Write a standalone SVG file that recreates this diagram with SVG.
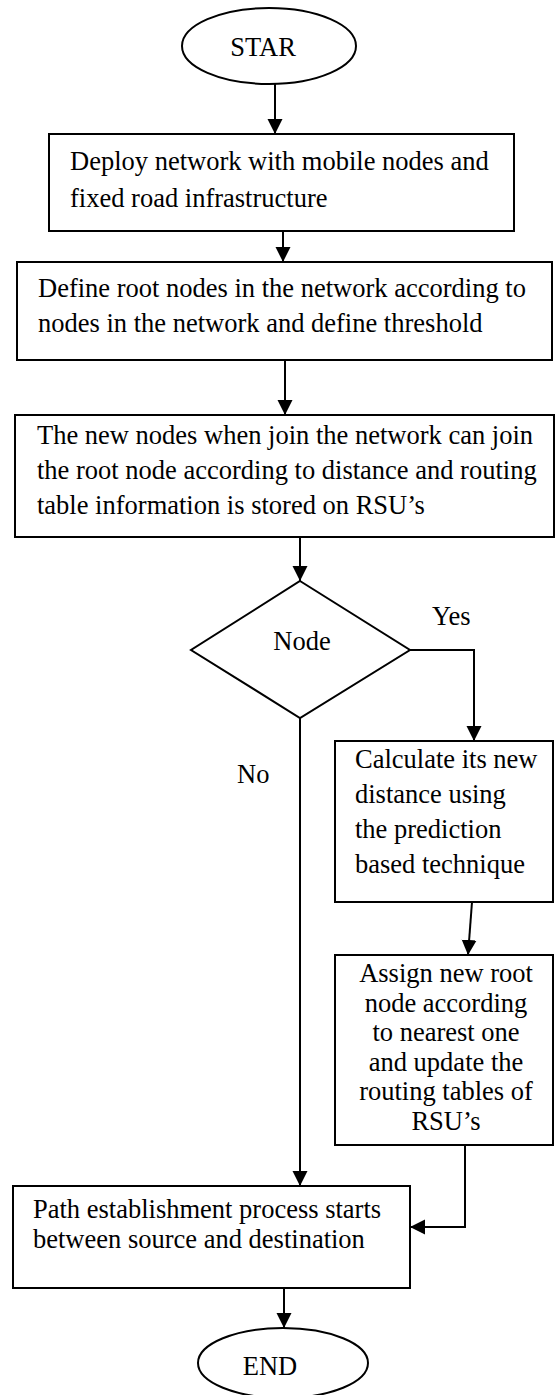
<svg xmlns="http://www.w3.org/2000/svg" width="555" height="1395" viewBox="0 0 555 1395">
<defs>
<style>
.shape{fill:#fff;stroke:#000;stroke-width:2}
.t{font-family:"Liberation Serif","Times New Roman",serif;font-size:26.5px;fill:#000}
.c{text-anchor:middle}
.ln{fill:none;stroke:#000;stroke-width:2}
</style>
<marker id="ah" markerWidth="16" markerHeight="16" refX="15" refY="7.5" orient="auto" markerUnits="userSpaceOnUse">
<path d="M0,0 L15,7.5 L0,15 Z" fill="#000"/>
</marker>
</defs>
<rect width="555" height="1395" fill="#fff"/>
<g id="connectors">
<line class="ln" x1="275" y1="84" x2="275" y2="134" marker-end="url(#ah)"/>
<line class="ln" x1="283" y1="231" x2="283" y2="262" marker-end="url(#ah)"/>
<line class="ln" x1="285" y1="360" x2="285" y2="415" marker-end="url(#ah)"/>
<line class="ln" x1="300" y1="537" x2="300" y2="581" marker-end="url(#ah)"/>
<polyline class="ln" points="410,650 474,650 474,741" marker-end="url(#ah)"/>
<line class="ln" x1="300" y1="718" x2="300" y2="1186" marker-end="url(#ah)"/>
<line class="ln" x1="472" y1="902" x2="468" y2="955" marker-end="url(#ah)"/>
<polyline class="ln" points="465,1145 465,1227 410,1227" marker-end="url(#ah)"/>
<line class="ln" x1="284" y1="1288" x2="284" y2="1328" marker-end="url(#ah)"/>
<text class="t" x="432" y="625">Yes</text>
<text class="t" x="237" y="783">No</text>
</g>
<g id="start">
<ellipse class="shape" cx="269" cy="46" rx="87" ry="38"/>
<text class="t c" x="263" y="56">STAR</text>
</g>
<g id="deploy">
<rect class="shape" x="49" y="134" width="465" height="97"/>
<text class="t" x="70" y="170">Deploy network with mobile nodes and</text>
<text class="t" x="70" y="207">fixed road infrastructure</text>
</g>
<g id="define">
<rect class="shape" x="17" y="262" width="535" height="98"/>
<text class="t" x="38" y="297">Define root nodes in the network according to</text>
<text class="t" x="38" y="332">nodes in the network and define threshold</text>
</g>
<g id="join">
<rect class="shape" x="15" y="415" width="539" height="122"/>
<text class="t" x="37" y="444">The new nodes when join the network can join</text>
<text class="t" x="37" y="479">the root node according to distance and routing</text>
<text class="t" x="37" y="514">table information is stored on RSU’s</text>
</g>
<g id="decision">
<polygon class="shape" points="300,581 410,650 300,718 191,650"/>
<text class="t c" x="302" y="650">Node</text>
</g>
<g id="calculate">
<rect class="shape" x="335" y="741" width="218" height="161"/>
<text class="t" x="355" y="768">Calculate its new</text>
<text class="t" x="355" y="803">distance using</text>
<text class="t" x="355" y="838">the prediction</text>
<text class="t" x="355" y="873">based technique</text>
</g>
<g id="assign">
<rect class="shape" x="335" y="955" width="218" height="190"/>
<text class="t c" x="446" y="982">Assign new root</text>
<text class="t c" x="446" y="1012">node according</text>
<text class="t c" x="446" y="1041">to nearest one</text>
<text class="t c" x="446" y="1071">and update the</text>
<text class="t c" x="446" y="1100">routing tables of</text>
<text class="t c" x="446" y="1130">RSU’s</text>
</g>
<g id="path">
<rect class="shape" x="13" y="1186" width="397" height="102"/>
<text class="t" x="33" y="1218">Path establishment process starts</text>
<text class="t" x="33" y="1248">between source and destination</text>
</g>
<g id="end">
<ellipse class="shape" cx="283" cy="1363" rx="85" ry="35"/>
<text class="t c" x="270" y="1375">END</text>
</g>
</svg>
